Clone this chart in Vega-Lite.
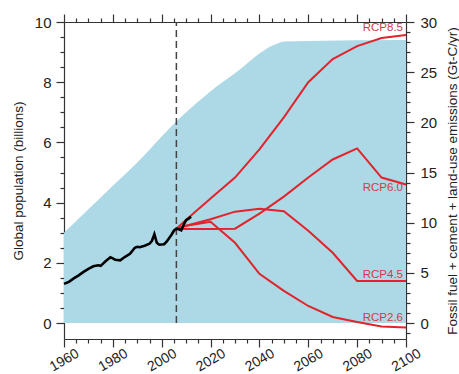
{
  "$schema": "https://vega.github.io/schema/vega-lite/v6.json",
  "width": 342,
  "height": 317,
  "autosize": "none",
  "padding": {"left": 64, "top": 22, "right": 53, "bottom": 35},
  "background": "white",
  "config": {
    "view": {"stroke": null},
    "font": "Liberation Sans",
    "axis": {
      "grid": false,
      "domainColor": "#333333",
      "domainWidth": 1.2,
      "tickColor": "#333333",
      "tickWidth": 1.2,
      "labelColor": "#222222",
      "titleColor": "#222222",
      "labelFont": "Liberation Sans",
      "titleFont": "Liberation Sans",
      "titleFontWeight": "normal"
    }
  },
  "datasets": {
    "population": [
      {"year": 1960, "lo": 0, "hi": 3.0},
      {"year": 1970, "lo": 0, "hi": 3.78},
      {"year": 1980, "lo": 0, "hi": 4.56},
      {"year": 1990, "lo": 0, "hi": 5.33},
      {"year": 2000, "lo": 0, "hi": 6.2},
      {"year": 2006, "lo": 0, "hi": 6.7},
      {"year": 2010, "lo": 0, "hi": 7.0},
      {"year": 2020, "lo": 0, "hi": 7.7},
      {"year": 2032, "lo": 0, "hi": 8.42},
      {"year": 2040, "lo": 0, "hi": 8.95},
      {"year": 2045, "lo": 0, "hi": 9.2},
      {"year": 2048, "lo": 0, "hi": 9.3},
      {"year": 2050, "lo": 0, "hi": 9.35},
      {"year": 2060, "lo": 0, "hi": 9.37},
      {"year": 2100, "lo": 0, "hi": 9.4}
    ],
    "marker": [
      {"year": 2006, "lo": 0, "hi": 10}
    ],
    "scenarios": [
      {"series": "RCP8.5", "year": 2006, "value": 9.4},
      {"series": "RCP8.5", "year": 2010, "value": 10.3},
      {"series": "RCP8.5", "year": 2020, "value": 12.4},
      {"series": "RCP8.5", "year": 2030, "value": 14.5},
      {"series": "RCP8.5", "year": 2040, "value": 17.3},
      {"series": "RCP8.5", "year": 2050, "value": 20.5},
      {"series": "RCP8.5", "year": 2060, "value": 24.0},
      {"series": "RCP8.5", "year": 2070, "value": 26.3},
      {"series": "RCP8.5", "year": 2080, "value": 27.6},
      {"series": "RCP8.5", "year": 2090, "value": 28.4},
      {"series": "RCP8.5", "year": 2100, "value": 28.7},
      {"series": "RCP6.0", "year": 2006, "value": 9.4},
      {"series": "RCP6.0", "year": 2010, "value": 9.37},
      {"series": "RCP6.0", "year": 2020, "value": 9.37},
      {"series": "RCP6.0", "year": 2030, "value": 9.4},
      {"series": "RCP6.0", "year": 2040, "value": 10.9},
      {"series": "RCP6.0", "year": 2050, "value": 12.6},
      {"series": "RCP6.0", "year": 2060, "value": 14.5},
      {"series": "RCP6.0", "year": 2070, "value": 16.3},
      {"series": "RCP6.0", "year": 2080, "value": 17.4},
      {"series": "RCP6.0", "year": 2090, "value": 14.5},
      {"series": "RCP6.0", "year": 2100, "value": 13.8},
      {"series": "RCP4.5", "year": 2006, "value": 9.4},
      {"series": "RCP4.5", "year": 2010, "value": 9.7},
      {"series": "RCP4.5", "year": 2020, "value": 10.35},
      {"series": "RCP4.5", "year": 2030, "value": 11.1},
      {"series": "RCP4.5", "year": 2040, "value": 11.4},
      {"series": "RCP4.5", "year": 2050, "value": 11.15},
      {"series": "RCP4.5", "year": 2060, "value": 9.2},
      {"series": "RCP4.5", "year": 2070, "value": 7.0},
      {"series": "RCP4.5", "year": 2080, "value": 4.2},
      {"series": "RCP4.5", "year": 2090, "value": 4.2},
      {"series": "RCP4.5", "year": 2100, "value": 4.2},
      {"series": "RCP2.6", "year": 2006, "value": 9.4},
      {"series": "RCP2.6", "year": 2010, "value": 9.7},
      {"series": "RCP2.6", "year": 2020, "value": 10.1},
      {"series": "RCP2.6", "year": 2030, "value": 8.0},
      {"series": "RCP2.6", "year": 2040, "value": 4.9},
      {"series": "RCP2.6", "year": 2050, "value": 3.2},
      {"series": "RCP2.6", "year": 2060, "value": 1.7},
      {"series": "RCP2.6", "year": 2070, "value": 0.6},
      {"series": "RCP2.6", "year": 2080, "value": 0.1},
      {"series": "RCP2.6", "year": 2090, "value": -0.35},
      {"series": "RCP2.6", "year": 2100, "value": -0.45}
    ],
    "history": [
      {"year": 1960, "value": 3.9},
      {"year": 1962, "value": 4.1},
      {"year": 1964, "value": 4.45},
      {"year": 1966, "value": 4.75},
      {"year": 1968, "value": 5.1},
      {"year": 1970, "value": 5.4},
      {"year": 1972, "value": 5.65},
      {"year": 1974, "value": 5.75},
      {"year": 1975, "value": 5.7},
      {"year": 1977, "value": 6.15},
      {"year": 1979, "value": 6.55},
      {"year": 1980, "value": 6.45},
      {"year": 1981, "value": 6.3},
      {"year": 1983, "value": 6.25},
      {"year": 1985, "value": 6.6},
      {"year": 1987, "value": 6.9},
      {"year": 1989, "value": 7.5},
      {"year": 1990, "value": 7.6},
      {"year": 1991, "value": 7.55},
      {"year": 1993, "value": 7.7},
      {"year": 1995, "value": 7.9},
      {"year": 1996, "value": 8.2},
      {"year": 1997, "value": 8.85},
      {"year": 1998, "value": 8.0},
      {"year": 1999, "value": 7.8},
      {"year": 2001, "value": 7.85},
      {"year": 2002, "value": 8.1},
      {"year": 2004, "value": 8.8},
      {"year": 2005, "value": 9.2},
      {"year": 2006, "value": 9.4},
      {"year": 2007, "value": 9.35},
      {"year": 2008, "value": 9.25},
      {"year": 2009, "value": 9.8},
      {"year": 2010, "value": 10.25},
      {"year": 2011, "value": 10.4},
      {"year": 2012, "value": 10.6}
    ],
    "labels": [
      {"label": "RCP8.5", "year": 2100, "value": 29.4},
      {"label": "RCP6.0", "year": 2100, "value": 13.45},
      {"label": "RCP4.5", "year": 2100, "value": 4.8},
      {"label": "RCP2.6", "year": 2100, "value": 0.5}
    ]
  },
  "layer": [
    {
      "data": {"name": "population"},
      "mark": {"type": "area", "color": "#add8e6", "opacity": 1, "interpolate": "monotone"},
      "encoding": {
        "x": {
          "field": "year", "type": "quantitative",
          "scale": {"domain": [1960, 2100], "nice": false, "zero": false},
          "axis": {
            "orient": "bottom", "values": [1960, 1980, 2000, 2020, 2040, 2060, 2080, 2100],
            "title": null, "format": "d", "labelAngle": -30, "labelAlign": "center",
            "labelBaseline": "middle", "labelPadding": 13, "labelFontSize": 14,
            "tickSize": 8, "labelFlush": false, "labelOverlap": false, "labelBound": false
          }
        },
        "y": {
          "field": "hi", "type": "quantitative",
          "scale": {"domain": [-0.53, 10.0], "nice": false, "zero": false},
          "axis": {
            "orient": "left", "values": [0, 2, 4, 6, 8, 10],
            "title": "Global population (billions)", "titleFontSize": 13.5,
            "titlePadding": 9, "labelFontSize": 15, "labelPadding": 5, "tickSize": 8
          }
        },
        "y2": {"field": "lo"}
      }
    },
    {
      "data": {"name": "marker"},
      "mark": {"type": "rule", "color": "#444444", "strokeWidth": 1.5, "strokeDash": [7, 4]},
      "encoding": {
        "x": {
          "field": "year", "type": "quantitative",
          "axis": {
            "orient": "bottom",
            "values": [1965, 1970, 1975, 1985, 1990, 1995, 2005, 2010, 2015, 2025, 2030, 2035, 2045, 2050, 2055, 2065, 2070, 2075, 2085, 2090, 2095],
            "labels": false, "title": null, "tickSize": 4, "domain": false
          }
        },
        "y": {
          "field": "lo", "type": "quantitative",
          "scale": {"domain": [-0.53, 10.0], "nice": false, "zero": false},
          "axis": {
            "orient": "left",
            "values": [0.5, 1, 1.5, 2.5, 3, 3.5, 4.5, 5, 5.5, 6.5, 7, 7.5, 8.5, 9, 9.5],
            "labels": false, "title": null, "tickSize": 4, "domain": false
          }
        },
        "y2": {"field": "hi"}
      }
    },
    {
      "data": {"name": "scenarios"},
      "mark": {"type": "line", "color": "#e3232b", "strokeWidth": 2},
      "encoding": {
        "detail": {"field": "series"},
        "x": {
          "field": "year", "type": "quantitative",
          "axis": {
            "orient": "top", "values": [1960, 1980, 2000, 2020, 2040, 2060, 2080, 2100],
            "labels": false, "title": null, "tickSize": 8
          }
        },
        "y": {
          "field": "value", "type": "quantitative",
          "scale": {"domain": [-1.59, 30.0], "nice": false, "zero": false},
          "axis": {
            "orient": "right", "values": [0, 5, 10, 15, 20, 25, 30],
            "title": "Fossil fuel + cement + land-use emissions (Gt-C/yr)",
            "titleFontSize": 13.5, "titleAngle": -90, "titleBaseline": "top", "titlePadding": 9,
            "labelFontSize": 15, "labelPadding": 6, "tickSize": 8
          }
        }
      }
    },
    {
      "data": {"name": "history"},
      "mark": {"type": "line", "color": "#000000", "strokeWidth": 2.6},
      "encoding": {
        "x": {"field": "year", "type": "quantitative", "axis": null},
        "y": {
          "field": "value", "type": "quantitative",
          "scale": {"domain": [-1.59, 30.0], "nice": false, "zero": false},
          "axis": null
        }
      }
    },
    {
      "data": {"name": "labels"},
      "mark": {"type": "text", "align": "right", "baseline": "middle", "dx": -3, "fontSize": 11.5, "color": "#d63a44", "font": "Liberation Sans"},
      "encoding": {
        "text": {"field": "label"},
        "x": {
          "field": "year", "type": "quantitative",
          "axis": {
            "orient": "top",
            "values": [1965, 1970, 1975, 1985, 1990, 1995, 2005, 2010, 2015, 2025, 2030, 2035, 2045, 2050, 2055, 2065, 2070, 2075, 2085, 2090, 2095],
            "labels": false, "title": null, "tickSize": 4, "domain": false
          }
        },
        "y": {
          "field": "value", "type": "quantitative",
          "scale": {"domain": [-1.59, 30.0], "nice": false, "zero": false},
          "axis": {
            "orient": "right",
            "values": [-1, 1, 2, 3, 4, 6, 7, 8, 9, 11, 12, 13, 14, 16, 17, 18, 19, 21, 22, 23, 24, 26, 27, 28, 29],
            "labels": false, "title": null, "tickSize": 4, "domain": false
          }
        }
      }
    }
  ],
  "resolve": {
    "scale": {"y": "independent"},
    "axis": {"x": "independent", "y": "independent"}
  }
}
